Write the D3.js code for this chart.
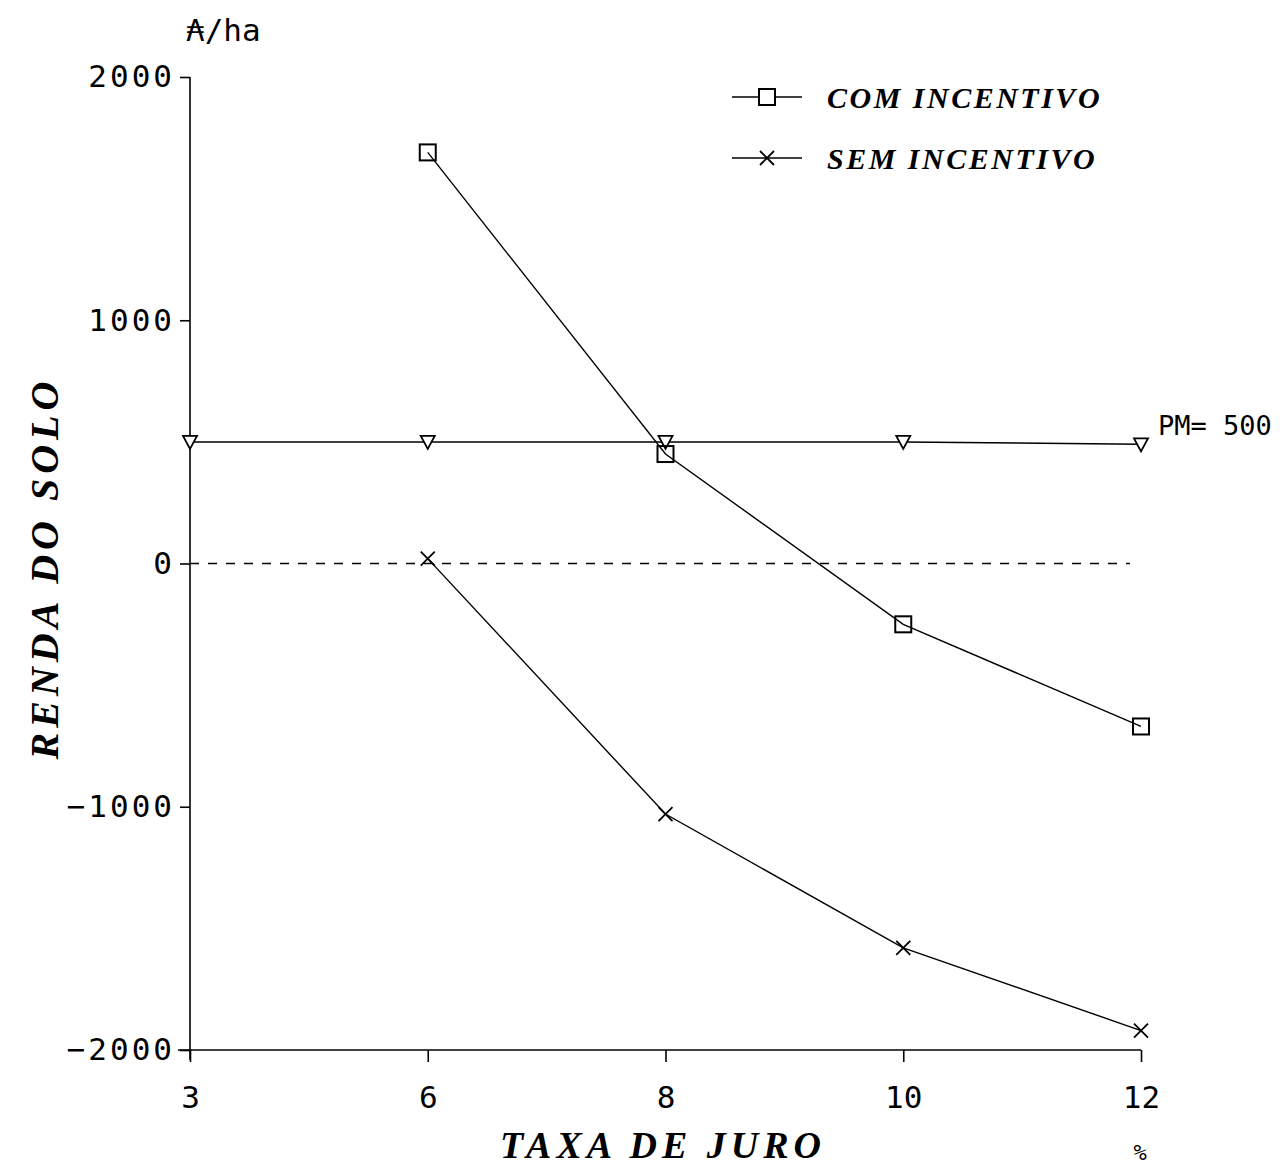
<!DOCTYPE html>
<html><head><meta charset="utf-8">
<script src="https://cdn.jsdelivr.net/npm/d3@7"></script>
<style>body{margin:0;background:#fff}</style>
</head><body>
<svg id="c" width="1283" height="1167"></svg>
<script>
const categories = ["3","6","8","10","12"];
const comCats = ["6","8","10","12"];
const comValues = [1690, 450, -250, -670];
const semCats = ["6","8","10","12"];
const semValues = [20, -1030, -1580, -1920];
const pmCats = ["3","6","8","10","12"];
const pmValues = [500, 500, 500, 500, 490];
const yTicks = [-2000, -1000, 0, 1000, 2000];

const svg = d3.select("#c");
const x = d3.scalePoint().domain(categories).range([190, 1141]);
const y = d3.scaleLinear().domain([-2000, 2000]).range([1050, 77]);
const mono = "'DejaVu Sans Mono', 'Liberation Mono', monospace";
const serif = "'Liberation Serif', 'DejaVu Serif', serif";

// Y axis
const ya = svg.append("g").attr("transform","translate(190,0)")
  .call(d3.axisLeft(y).tickValues(yTicks).tickSize(10).tickPadding(5).tickFormat(d=>d===0?"0":d3.format("d")(d).replace("-","−")));
ya.select(".domain").attr("d","M0,77V1060");
ya.selectAll("text").attr("font-family",mono).attr("font-size",31).attr("letter-spacing",3).attr("fill","#000");
ya.selectAll("line,path").attr("stroke","#000").attr("stroke-width",1.6);

// X axis
const xa = svg.append("g").attr("transform","translate(0,1050)")
  .call(d3.axisBottom(x).tickSize(12).tickPadding(24));
xa.select(".domain").attr("d","M178,0H1141");
xa.selectAll("text").attr("font-family",mono).attr("font-size",31).attr("fill","#000");
xa.selectAll("line,path").attr("stroke","#000").attr("stroke-width",1.6);

// zero dashed line
svg.append("line").attr("x1",x("3")).attr("x2",1130).attr("y1",y(0)).attr("y2",y(0))
  .attr("stroke","#000").attr("stroke-width",1.3).attr("stroke-dasharray","9,9");

const line = d3.line().x(d=>x(d[0])).y(d=>y(d[1]));
function series(cats, vals){ return cats.map((c,i)=>[c, vals[i]]); }

// PM line
const pm = series(pmCats, pmValues);
svg.append("path").attr("d", line(pm)).attr("fill","none").attr("stroke","#000").attr("stroke-width",1.5);
svg.selectAll(".tri").data(pm).enter().append("path")
  .attr("transform", d=>`translate(${x(d[0])},${y(d[1])})`)
  .attr("d","M-7,-6H7L0,7Z").attr("fill","#fff").attr("stroke","#000").attr("stroke-width",1.8);
svg.append("text").attr("x",1158).attr("y",435).text("PM= 500")
  .attr("font-family",mono).attr("font-size",27).attr("fill","#000");

// COM
const com = series(comCats, comValues);
svg.append("path").attr("d", line(com)).attr("fill","none").attr("stroke","#000").attr("stroke-width",1.4);
svg.selectAll(".sq").data(com).enter().append("rect")
  .attr("x",d=>x(d[0])-8).attr("y",d=>y(d[1])-8).attr("width",16).attr("height",16)
  .attr("fill","none").attr("stroke","#000").attr("stroke-width",2);

// SEM
const sem = series(semCats, semValues);
svg.append("path").attr("d", line(sem)).attr("fill","none").attr("stroke","#000").attr("stroke-width",1.4);
svg.selectAll(".xx").data(sem).enter().append("path")
  .attr("transform", d=>`translate(${x(d[0])},${y(d[1])})`)
  .attr("d","M-7,-7L7,7M-7,7L7,-7").attr("stroke","#000").attr("stroke-width",1.8);

// Legend
const lg = [{label:"COM INCENTIVO", y:97, m:"sq"},{label:"SEM INCENTIVO", y:158, m:"x"}];
lg.forEach(l=>{
  svg.append("line").attr("x1",732).attr("x2",802).attr("y1",l.y).attr("y2",l.y).attr("stroke","#000").attr("stroke-width",1.5);
  if(l.m==="sq") svg.append("rect").attr("x",759).attr("y",l.y-8).attr("width",16).attr("height",16).attr("fill","#fff").attr("stroke","#000").attr("stroke-width",2);
  else svg.append("path").attr("d",`M760,${l.y-7}L774,${l.y+7}M760,${l.y+7}L774,${l.y-7}`).attr("stroke","#000").attr("stroke-width",1.8);
  svg.append("text").attr("x",827).attr("y",l.y+11).text(l.label)
    .attr("font-family",serif).attr("font-style","italic").attr("font-weight","bold").attr("font-size",30).attr("letter-spacing",2.5).attr("fill","#000");
});

// Titles
svg.append("text").attr("x",186).attr("y",41).text("₳/ha")
  .attr("font-family",mono).attr("font-size",31).attr("fill","#000");
svg.append("text").attr("x",663).attr("y",1158).attr("text-anchor","middle").text("TAXA DE JURO")
  .attr("font-family",serif).attr("font-style","italic").attr("font-weight","bold").attr("font-size",38).attr("letter-spacing",5).attr("fill","#000");
svg.append("text").attr("transform","translate(58,568) rotate(-90)").attr("text-anchor","middle").text("RENDA DO SOLO")
  .attr("font-family",serif).attr("font-style","italic").attr("font-weight","bold").attr("font-size",40).attr("letter-spacing",5).attr("fill","#000");
svg.append("text").attr("x",1140).attr("y",1160).attr("text-anchor","middle").text("%")
  .attr("font-family",mono).attr("font-size",22).attr("fill","#000");
</script>
</body></html>
